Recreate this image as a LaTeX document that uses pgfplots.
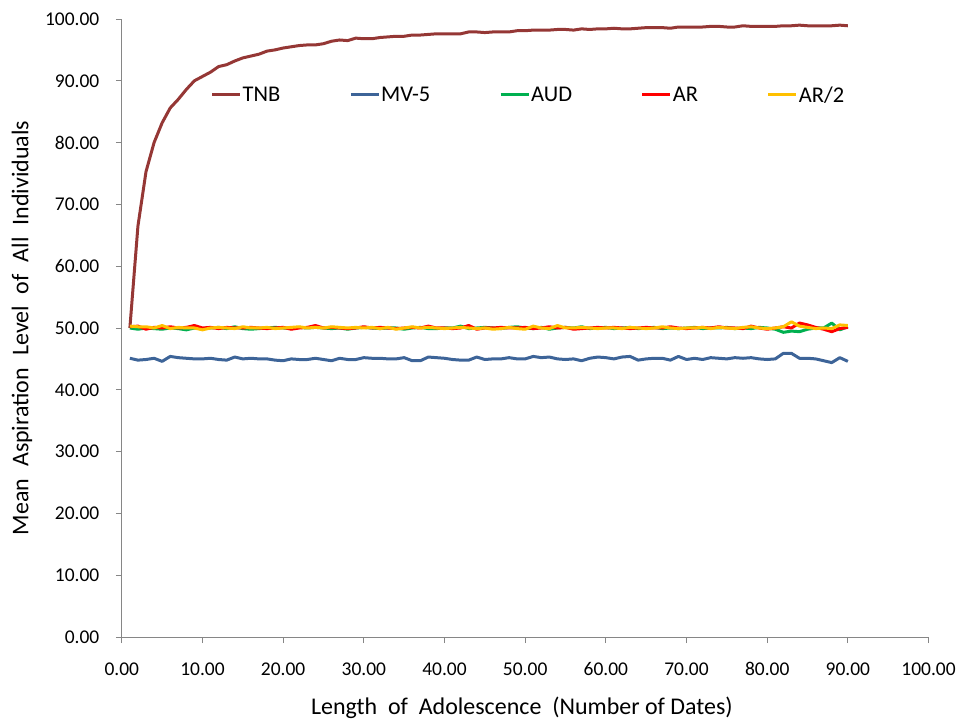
\documentclass[border=0pt]{standalone}
\usepackage{pgfplots}
\usepackage{pgfplotstable}
\pgfplotsset{compat=1.18}
\usepackage{fontspec}
\setmainfont{Carlito}
\usetikzlibrary{calc}
\definecolor{tnb}{HTML}{953735}
\definecolor{mvf}{HTML}{3D6498}
\definecolor{aud}{HTML}{00B050}
\definecolor{arr}{HTML}{FF0000}
\definecolor{artwo}{HTML}{FFC000}
\definecolor{axisgray}{HTML}{868686}
\pgfplotstableread{
x TNB MV AUD AR ARtwo
1 50.0 45.1 50.0 50.2 50.3
2 66.5 44.8 49.8 50.3 50.2
3 75.3 44.9 50.0 49.8 50.2
4 80.0 45.1 49.9 50.1 50.0
5 83.2 44.6 49.8 50.0 50.4
6 85.6 45.4 50.0 50.2 49.9
7 87.0 45.2 49.9 50.0 50.1
8 88.6 45.1 49.7 50.1 50.0
9 90.0 45.0 50.0 50.4 50.0
10 90.7 45.0 49.9 50.0 49.7
11 91.4 45.1 50.0 50.1 50.0
12 92.3 44.9 50.1 49.9 50.1
13 92.6 44.8 49.9 50.1 50.0
14 93.2 45.3 50.2 50.0 49.9
15 93.7 45.0 49.9 50.0 50.2
16 94.0 45.1 49.8 50.1 50.0
17 94.3 45.0 49.9 50.0 50.0
18 94.8 45.0 50.0 49.9 50.1
19 95.0 44.8 50.1 50.0 49.9
20 95.3 44.7 50.0 50.1 50.0
21 95.5 45.0 49.9 49.8 50.1
22 95.7 44.9 50.1 50.0 50.2
23 95.8 44.9 50.0 50.1 50.0
24 95.8 45.1 50.1 50.4 50.1
25 96.0 44.9 50.0 50.0 50.0
26 96.4 44.7 49.9 50.1 50.2
27 96.6 45.1 50.0 50.0 50.1
28 96.5 44.9 49.8 49.9 50.0
29 96.9 44.9 50.0 50.0 50.1
30 96.8 45.2 50.1 50.2 50.0
31 96.8 45.1 50.0 50.0 50.1
32 97.0 45.1 49.9 50.1 49.9
33 97.1 45.0 50.0 50.0 50.1
34 97.2 45.0 50.0 49.9 49.8
35 97.2 45.2 49.8 50.0 50.0
36 97.4 44.7 50.0 50.1 50.2
37 97.4 44.7 50.1 50.0 50.0
38 97.5 45.3 49.9 50.3 50.1
39 97.6 45.2 49.9 50.0 50.0
40 97.6 45.1 50.0 50.0 49.9
41 97.6 44.9 50.0 49.9 50.0
42 97.6 44.8 50.3 50.0 50.1
43 97.9 44.8 49.9 50.4 50.0
44 97.9 45.3 50.0 49.8 49.9
45 97.8 44.9 50.1 50.0 50.0
46 97.9 45.0 50.0 50.0 49.8
47 97.9 45.0 49.9 50.1 49.9
48 97.9 45.2 50.1 50.0 50.1
49 98.1 45.0 50.2 50.0 49.9
50 98.1 45.0 50.0 50.1 49.8
51 98.2 45.4 49.9 49.9 50.3
52 98.2 45.2 50.1 50.0 50.0
53 98.2 45.3 49.8 50.2 49.9
54 98.3 45.0 50.0 50.0 50.4
55 98.3 44.9 50.1 50.1 50.0
56 98.2 45.0 50.0 49.8 50.0
57 98.4 44.7 50.2 49.9 50.1
58 98.3 45.1 49.9 50.0 50.0
59 98.4 45.3 50.0 50.1 49.9
60 98.4 45.2 50.1 50.0 50.0
61 98.5 45.0 49.9 50.1 50.0
62 98.4 45.3 50.0 50.0 49.9
63 98.4 45.4 50.1 49.9 50.1
64 98.5 44.8 49.9 50.0 50.0
65 98.6 45.0 50.0 50.1 49.9
66 98.6 45.1 50.1 50.0 50.0
67 98.6 45.1 49.9 50.0 50.2
68 98.5 44.8 50.0 50.2 50.0
69 98.7 45.4 49.9 50.0 49.9
70 98.7 44.9 50.0 49.9 50.0
71 98.7 45.1 50.1 50.0 50.0
72 98.7 44.9 49.9 50.1 50.1
73 98.8 45.2 50.0 50.0 49.9
74 98.8 45.1 50.0 50.2 50.1
75 98.7 45.0 50.1 50.0 50.0
76 98.7 45.2 49.9 50.0 49.9
77 98.9 45.1 50.0 49.9 50.1
78 98.8 45.2 49.9 50.3 50.2
79 98.8 45.0 50.1 50.0 50.0
80 98.8 44.9 50.0 49.8 49.9
81 98.8 45.0 49.8 50.0 50.0
82 98.9 45.9 49.3 50.2 50.2
83 98.9 45.9 49.5 50.0 51.0
84 99.0 45.1 49.4 50.8 50.3
85 98.9 45.1 49.8 50.5 50.1
86 98.9 45.0 50.0 50.1 49.9
87 98.9 44.7 50.0 49.8 50.0
88 98.9 44.4 50.8 49.4 49.9
89 99.0 45.2 49.7 49.9 50.5
90 98.9 44.6 50.2 50.1 50.4
}\datatable
\begin{document}
\begin{tikzpicture}
\begin{axis}[
  scale only axis, width=808pt, height=619pt,
  xmin=0, xmax=100, ymin=0, ymax=100,
  xtick={0,10,...,100}, ytick={0,10,...,100},
  axis x line*=bottom, axis y line*=left,
  axis line style={color=axisgray, line width=0.9pt},
  every tick/.style={color=axisgray, line width=0.9pt},
  tick align=outside, major tick length=6pt,
  /pgf/number format/fixed, /pgf/number format/fixed zerofill,
  /pgf/number format/precision=2, /pgf/number format/assume math mode=true,
  tick label style={font=\fontsize{19.5}{22}\selectfont, text=black},
  xticklabel style={yshift=-16pt},
  yticklabel style={xshift=-13pt},
  every axis x label/.style={at={(rel axis cs:0.496,0)}, anchor=center, yshift=-71pt, font=\fontsize{24}{28}\selectfont},
  every axis y label/.style={at={(rel axis cs:0,0.5)}, xshift=-100pt, rotate=90, anchor=center, font=\fontsize{24}{28}\selectfont},
  xlabel={Length\ \ of\ \ Adolescence\ \ (Number of Dates)},
  ylabel={Mean\hspace{0.5em}Aspiration\hspace{0.5em}Level\hspace{0.5em}of\hspace{0.5em}All\hspace{0.5em}Individuals},
  legend columns=5,
  legend style={draw=none, fill=none, at={(0.110,0.877)}, anchor=west, inner sep=0pt,
    font=\fontsize{22.5}{26}\selectfont,
    nodes={inner sep=1pt},
    /tikz/every even column/.append style={column sep=68pt}},
  legend image code/.code={\draw[#1, line width=3pt] (0pt,0pt) -- (28pt,0pt);},
  every axis plot/.append style={line width=3pt, line join=round},
]
\coordinate (bl) at (rel axis cs:0,0);
\addplot[tnb, no markers] table[x=x, y=TNB] {\datatable};
\addlegendentry{TNB}
\addplot[mvf, no markers] table[x=x, y=MV] {\datatable};
\addlegendentry{MV-5}
\addplot[aud, no markers] table[x=x, y=AUD] {\datatable};
\addlegendentry{AUD}
\addplot[arr, no markers] table[x=x, y=AR] {\datatable};
\addlegendentry{AR}
\addplot[artwo, no markers] table[x=x, y=ARtwo] {\datatable};
\addlegendentry{AR/2}
\end{axis}
\path[use as bounding box] ($(bl)+(-122pt,-86pt)$) rectangle ($(bl)+(837pt,638pt)$);
\end{tikzpicture}
\end{document}
